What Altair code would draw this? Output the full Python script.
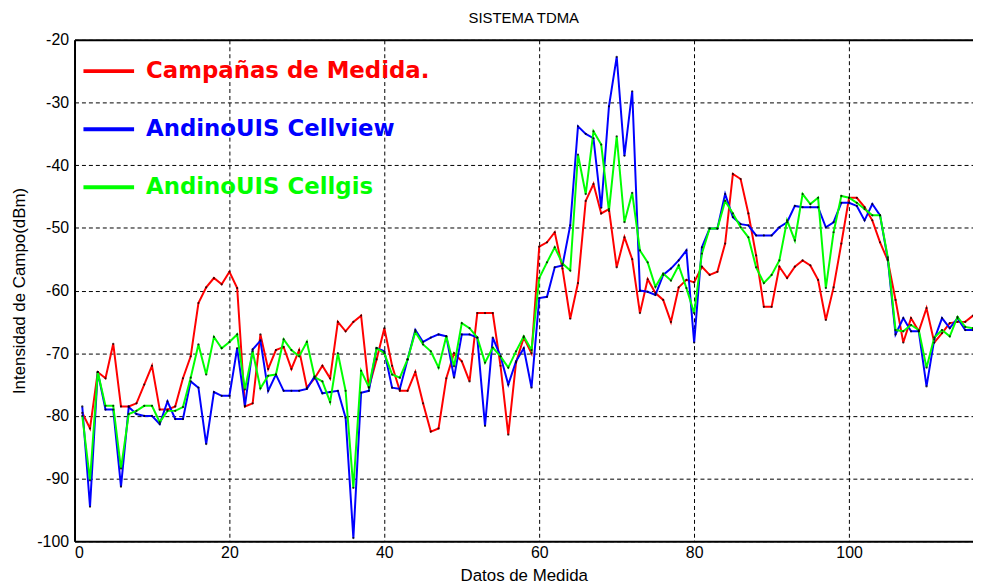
import altair as alt
import pandas as pd

# ---- data ----
x_vals = list(range(1, 117))

campanas = [-79.5, -82, -73, -74, -68.5, -78.5, -78.5, -78, -75, -72,
            -79, -79, -78.5, -74, -70.5, -62, -59.5, -58, -59, -57,
            -59.6, -78.5, -78, -67, -72.5, -69.5, -69, -72.5, -69.5, -75.5,
            -74, -72, -74, -65, -66.5, -65, -64, -75.5, -71, -66,
            -72, -76, -76, -73, -78, -82.5, -82, -74, -70, -71.3,
            -74.5, -63.6, -63.6, -63.6, -72, -83, -71.5, -67.5, -70, -53,
            -52.3, -50.7, -56.5, -64.5, -58.8, -45.7, -43, -47.7, -47, -56.3,
            -51.5, -55, -63.6, -58.2, -60.4, -61.5, -65, -59.5, -58.3, -58.7,
            -56.2, -57.5, -57, -52.5, -41.4, -42.2, -47.7, -54.4, -62.6, -62.6,
            -56.2, -58, -56.2, -55.2, -56, -58.3, -64.7, -59.5, -52.5, -45.2,
            -45.2, -46.7, -48.8, -52.3, -55.2, -61.5, -68.3, -64.4, -66.5, -62.8,
            -68.3, -66.8, -65.2, -65, -65, -64]

cellview = [-78.5, -94.5, -73, -79, -79, -91.3, -78.6, -79.7, -80, -80,
            -81.3, -77.7, -80.5, -80.5, -74.5, -75.5, -84.5, -76.2, -76.8, -76.8,
            -69.2, -78.4, -69.4, -68, -76, -73.4, -76, -76, -76, -75.7,
            -73.7, -76.4, -76.2, -76, -80.3, -99.5, -76.3, -76, -69.2, -69.7,
            -75.5, -75.7, -71, -66.3, -68.2, -67.5, -67, -67.3, -73.9, -67,
            -67, -67.5, -81.6, -67.5, -70.5, -75, -71.3, -69.2, -75.5, -61.2,
            -61, -56.3, -56, -49.6, -33.8, -35, -35.7, -46.8, -30.6, -22.7,
            -38.5, -28.2, -60, -60.2, -60.7, -57.5, -56.5, -55.2, -53.6, -68.3,
            -53.1, -50.1, -50.1, -44.6, -48.3, -49.4, -49.6, -51.2, -51.2, -51.2,
            -49.9, -49.1, -46.5, -46.7, -46.7, -46.7, -49.9, -49.1, -46, -46,
            -46.5, -48.8, -46.2, -48, -55, -67, -64.4, -66.5, -66.5, -75.3,
            -67.8, -64.4, -66, -64.4, -66.3, -66.3]

cellgis = [-80, -90.3, -73, -78.4, -78.4, -88.4, -79.7, -79.2, -78.4, -78.4,
           -81, -79.2, -79.2, -78.6, -73.9, -68.6, -73.4, -67.4, -69.2, -68.2,
           -67, -75.8, -69.7, -75.6, -73.6, -73.4, -67.8, -69.5, -70.5, -68.2,
           -73.8, -74.5, -77.8, -70, -76, -91.5, -72.8, -75.4, -69.2, -70,
           -73.4, -73.9, -71, -66.6, -68.6, -69.7, -72.3, -67.3, -72.1, -65.2,
           -66, -67.5, -71.5, -69.1, -70.5, -72.3, -69.7, -67.3, -69.5, -58,
           -55.5, -53.1, -55.7, -56.8, -38.3, -44.6, -34.6, -36.7, -47.3, -35.4,
           -49.1, -44.4, -53.6, -55.5, -59.4, -57.3, -58.4, -56, -59.6, -63.6,
           -54.1, -50.1, -50.1, -45.7, -47.7, -49.9, -51.5, -56.3, -58.8, -57.5,
           -55.2, -48.8, -52, -44.6, -46.2, -45.2, -59.6, -50.7, -44.9, -45.2,
           -46, -47, -48, -48, -54.7, -66.3, -66.5, -65.5, -66.3, -72.3,
           -67.5, -66.3, -67.3, -64.2, -65.8, -66]

series_names = ["Campañas de Medida.", "AndinoUIS Cellview", "AndinoUIS Cellgis"]
series_colors = ["#ff0000", "#0000ff", "#00ff00"]
x_ticks = [0, 20, 40, 60, 80, 100]
y_ticks = [-100, -90, -80, -70, -60, -50, -40, -30, -20]

rows = []
for name, vals in zip(series_names, [campanas, cellview, cellgis]):
    for xv, v in zip(x_vals, vals):
        rows.append({"x": xv, "v": v, "serie": name})
df = pd.DataFrame(rows)

FONT = "Liberation Sans Narrow, Liberation Sans, Arial"
x_scale = alt.Scale(domain=[0, 116], nice=False, zero=False)
y_scale = alt.Scale(domain=[-100, -20], nice=False, zero=False)

x_enc = alt.X("x:Q", scale=x_scale,
              axis=alt.Axis(values=x_ticks, title="Datos de Medida", grid=True,
                            gridColor="black", gridDash=[4, 3], gridWidth=1, gridOpacity=1,
                            ticks=False, domainColor="black", domainWidth=2,
                            labelFont=FONT, labelFontSize=16, labelColor="black",
                            labelPadding=3, titleFont=FONT, titleFontSize=17,
                            titleFontWeight="normal", titleColor="black", titlePadding=8))
y_enc = alt.Y("v:Q", scale=y_scale,
              axis=alt.Axis(values=y_ticks, title="Intensidad de Campo(dBm)", grid=True,
                            gridColor="black", gridDash=[4, 3], gridWidth=1, gridOpacity=1,
                            ticks=False, domainColor="black", domainWidth=2,
                            labelExpr="'' + datum.value",
                            labelFont=FONT, labelFontSize=16, labelColor="black",
                            labelPadding=6, titleFont=FONT, titleFontSize=17,
                            titleFontWeight="normal", titleColor="black", titlePadding=8))

label_color_expr = ("datum.label == 'Campañas de Medida.' ? '#ff0000' : "
                    "(datum.label == 'AndinoUIS Cellview' ? '#0000ff' : '#00ff00')")

color = alt.Color("serie:N", sort=series_names,
                  scale=alt.Scale(domain=series_names, range=series_colors),
                  legend=alt.Legend(orient="none", legendX=7, legendY=4, title=None,
                                    symbolType="stroke", symbolSize=2601,
                                    symbolStrokeWidth=4, labelFont="DejaVu Sans",
                                    labelFontSize=23, labelFontWeight="bold",
                                    labelOffset=10, rowPadding=18.5, padding=0,
                                    labelColor=alt.ExprRef(expr=label_color_expr),
                                    labelLimit=400))

lines = alt.Chart(df).mark_line(strokeWidth=2, clip=True).encode(
    x=x_enc, y=y_enc, color=color)

dots = alt.Chart(df).mark_circle(size=5, color="black", opacity=0.75, clip=True).encode(
    x=alt.X("x:Q", scale=x_scale, axis=None),
    y=alt.Y("v:Q", scale=y_scale, axis=None))

top = alt.Chart(df).mark_line(opacity=0).encode(
    x=alt.X("x:Q", scale=x_scale,
            axis=alt.Axis(orient="top", labels=False, ticks=False, grid=False,
                          domainColor="black", domainWidth=2, title=None)),
    y=alt.Y("v:Q", scale=y_scale, axis=None))

chart = alt.layer(lines, dots, top).resolve_axis(x="independent", y="independent").properties(
    width=905, height=505,
    title=alt.TitleParams("SISTEMA TDMA", font=FONT, fontSize=15, fontWeight="normal",
                          color="black", offset=6),
    autosize=alt.AutoSizeParams(type="none"),
    padding={"left": 67, "top": 30, "right": 0, "bottom": 42},
    background="white",
).configure_view(stroke=None)

chart.save("out.html", embed_options={"renderer": "svg", "actions": False})
